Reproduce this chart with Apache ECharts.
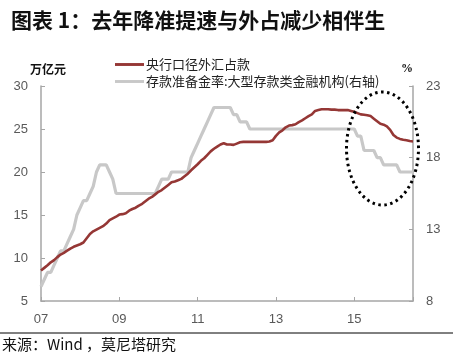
<!DOCTYPE html>
<html><head><meta charset="utf-8">
<script src="https://cdn.jsdelivr.net/npm/echarts@6/dist/echarts.min.js"></script>
<style>html,body{margin:0;padding:0;background:#fff}#c{width:453px;height:356px}</style>
</head><body><div id="c"></div>
<script>
// Months counted from Jan 2007 (0) to Jul 2016 (114)
const months = Array.from({length: 115}, (_, i) => i);
// 央行口径外汇占款 (万亿元), monthly
const fxReserves = [
  8.55, 8.85, 9.15, 9.5, 9.75, 10.1, 10.4, 10.6, 10.85, 11.1, 11.3, 11.45,
  11.6, 11.8, 12.3, 12.8, 13.1, 13.3, 13.5, 13.7, 14.0, 14.4, 14.6, 14.8,
  15.05, 15.1, 15.2, 15.5, 15.7, 15.85, 16.1, 16.3, 16.6, 16.9, 17.1, 17.4,
  17.7, 17.9, 18.2, 18.5, 18.8, 18.9, 19.05, 19.2, 19.5, 19.8, 20.2, 20.55,
  20.9, 21.3, 21.6, 22.0, 22.4, 22.7, 22.95, 23.2, 23.35, 23.2, 23.2, 23.15,
  23.3, 23.45, 23.5, 23.5, 23.5, 23.5, 23.5, 23.5, 23.5, 23.5, 23.55, 23.7,
  24.2, 24.6, 24.85, 25.2, 25.4, 25.45, 25.55, 25.8, 26.0, 26.25, 26.5, 26.7,
  27.1, 27.2, 27.3, 27.3, 27.3, 27.25, 27.25, 27.2, 27.2, 27.2, 27.2, 27.1,
  27.0, 26.85, 26.7, 26.65, 26.6, 26.5, 26.2, 25.9, 25.6, 25.5, 25.3, 24.9,
  24.3, 24.0, 23.85, 23.75, 23.7, 23.6, 23.55
];
// 存款准备金率：大型存款类金融机构 (%), monthly
const rrr = [
  9.0, 9.5, 10.0, 10.0, 10.5, 11.0, 11.5, 11.5, 12.0, 12.5, 13.0, 14.0,
  14.5, 15.0, 15.0, 15.5, 16.0, 17.0, 17.5, 17.5, 17.5, 17.0, 16.5, 15.5,
  15.5, 15.5, 15.5, 15.5, 15.5, 15.5, 15.5, 15.5, 15.5, 15.5, 15.5, 15.5,
  16.0, 16.5, 16.5, 16.5, 17.0, 17.0, 17.0, 17.0, 17.0, 17.0, 18.0, 18.5,
  19.0, 19.5, 20.0, 20.5, 21.0, 21.5, 21.5, 21.5, 21.5, 21.5, 21.5, 21.0,
  21.0, 20.5, 20.5, 20.5, 20.0, 20.0, 20.0, 20.0, 20.0, 20.0, 20.0, 20.0,
  20.0, 20.0, 20.0, 20.0, 20.0, 20.0, 20.0, 20.0, 20.0, 20.0, 20.0, 20.0,
  20.0, 20.0, 20.0, 20.0, 20.0, 20.0, 20.0, 20.0, 20.0, 20.0, 20.0, 20.0,
  20.0, 19.5, 19.5, 18.5, 18.5, 18.5, 18.5, 18.0, 18.0, 17.5, 17.5, 17.5,
  17.5, 17.5, 17.0, 17.0, 17.0, 17.0, 17.0
];
const xTickValues = [0, 24, 48, 72, 96];
const xTickLabels = ['07', '09', '11', '13', '15'];
const leftTicks = [5, 10, 15, 20, 25, 30];
const rightTicks = [8, 13, 18, 23];
const seriesNames = ['央行口径外汇占款', '存款准备金率:大型存款类金融机构(右轴)'];

const axisColor = '#a6a6a6';
const labelStyle = {color: '#595959', fontSize: 13, fontFamily: 'Liberation Sans, Arial, sans-serif'};
const chart = echarts.init(document.getElementById('c'), null, {renderer: 'canvas'});
chart.setOption({
  animation: false,
  backgroundColor: '#fff',
  title: {
    text: '图表 1：去年降准提速与外占减少相伴生',
    left: 6, top: 5,
    textStyle: {fontSize: 21, fontWeight: 'bold', color: '#111', fontFamily: 'Noto Sans CJK SC'}
  },
  legend: {
    orient: 'vertical', left: 110, top: 53, itemWidth: 29, itemHeight: 10, itemGap: 4,
    textStyle: {fontSize: 13, color: '#222', fontFamily: 'Noto Sans CJK SC', padding: [0, 0, 0, -3]},
    data: [
      {name: seriesNames[0], itemStyle: {color: '#953735'}, icon: 'path://M0,4 L30,4 L30,7 L0,7 Z'},
      {name: seriesNames[1], itemStyle: {color: '#c8c8c8'}, icon: 'path://M0,4 L30,4 L30,7 L0,7 Z'}
    ]
  },
  grid: {left: 41, right: 40, top: 86, bottom: 55},
  xAxis: {
    type: 'value', min: 0, max: 114,
    splitLine: {show: false},
    axisLine: {lineStyle: {color: axisColor, width: 1.5}},
    axisTick: {inside: true, length: 4, lineStyle: {color: axisColor}, customValues: xTickValues.concat([114])},
    axisLabel: Object.assign({margin: 12, customValues: xTickValues,
      formatter: v => xTickLabels[xTickValues.indexOf(v)] || ''}, labelStyle)
  },
  yAxis: [
    {
      type: 'value', min: 5, max: 30, interval: 5, position: 'left',
      splitLine: {show: false},
      axisLine: {show: true, lineStyle: {color: axisColor, width: 1.5}},
      axisTick: {show: true, inside: true, length: 4, lineStyle: {color: axisColor}, customValues: leftTicks},
      axisLabel: Object.assign({margin: 13, customValues: leftTicks}, labelStyle)
    },
    {
      type: 'value', min: 8, max: 23, position: 'right',
      splitLine: {show: false},
      axisLine: {show: true, lineStyle: {color: axisColor, width: 1.5}},
      axisTick: {show: true, inside: true, length: 4, lineStyle: {color: axisColor}, customValues: rightTicks},
      axisLabel: Object.assign({margin: 13, customValues: rightTicks}, labelStyle)
    }
  ],
  series: [
    {
      name: seriesNames[1], type: 'line', yAxisIndex: 1, symbol: 'none', z: 2,
      lineStyle: {color: '#c8c8c8', width: 3.2}, itemStyle: {color: '#c8c8c8'},
      data: months.map((m, i) => [m, rrr[i]])
    },
    {
      name: seriesNames[0], type: 'line', yAxisIndex: 0, symbol: 'none', z: 3,
      lineStyle: {color: '#953735', width: 2.6}, itemStyle: {color: '#953735'},
      data: months.map((m, i) => [m, fxReserves[i]])
    }
  ],
  graphic: [
    {type: 'text', left: 30, top: 63, style: {text: '万亿元', fontSize: 12, fontWeight: 'bold', fill: '#111', fontFamily: 'Noto Sans CJK SC'}},
    {type: 'text', left: 401, top: 63, style: {text: '%', fontSize: 12, fontWeight: 'bold', fill: '#111', fontFamily: 'Liberation Serif, serif'}},
    {type: 'ellipse', shape: {cx: 382.5, cy: 148.5, rx: 36, ry: 56.5}, z: 10,
      style: {fill: null, stroke: '#000', lineWidth: 3, lineDash: [2.5, 3.5]}},
    {type: 'line', shape: {x1: 0, y1: 333, x2: 453, y2: 333}, style: {stroke: '#000', lineWidth: 1}},
    {type: 'text', left: 2, top: 337, style: {text: '来源：Wind ，莫尼塔研究', fontSize: 15, fill: '#111', fontFamily: 'Noto Sans CJK SC'}}
  ]
});
</script></body></html>
